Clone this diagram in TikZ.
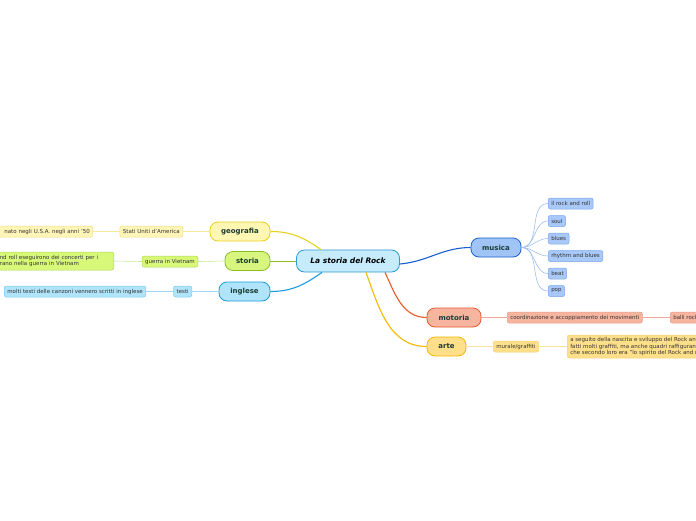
\documentclass[tikz,border=0pt]{standalone}
\usepackage{fontspec}
\setmainfont{DejaVu Sans}
\definecolor{labeltxt}{HTML}{1A3C34}
\definecolor{subtxt}{HTML}{333333}
\definecolor{cenfill}{HTML}{C6ECFC}\definecolor{cenbord}{HTML}{2A9BD5}
\definecolor{geofill}{HTML}{FFF7B3}\definecolor{geobord}{HTML}{E6D21A}\definecolor{geosubf}{HTML}{FFF5B8}\definecolor{geosubb}{HTML}{F0E080}\definecolor{geosubl}{HTML}{F5E99A}
\definecolor{stofill}{HTML}{D7F57F}\definecolor{stobord}{HTML}{8CBF26}\definecolor{stosubf}{HTML}{D8F87A}\definecolor{stosubb}{HTML}{B0D850}\definecolor{stosubl}{HTML}{C8E890}
\definecolor{ingfill}{HTML}{B0E4FA}\definecolor{ingbord}{HTML}{1A9DE0}\definecolor{ingsubf}{HTML}{B0E4FA}\definecolor{ingsubb}{HTML}{7CCAF0}\definecolor{ingsubl}{HTML}{9ED8F5}
\definecolor{musfill}{HTML}{A0C4F5}\definecolor{musbord}{HTML}{1A5FD0}\definecolor{mussubf}{HTML}{A8C8F8}\definecolor{mussubb}{HTML}{7AA6EA}\definecolor{mussubl}{HTML}{9FC0F0}
\definecolor{motfill}{HTML}{F7B5A0}\definecolor{motbord}{HTML}{E85A2A}\definecolor{motsubf}{HTML}{F7B5A0}\definecolor{motsubb}{HTML}{E89A85}\definecolor{motsubl}{HTML}{F0A898}
\definecolor{artfill}{HTML}{FFDF8A}\definecolor{artbord}{HTML}{F5B800}\definecolor{artsubf}{HTML}{FFE08A}\definecolor{artsubb}{HTML}{F8D070}\definecolor{artsubl}{HTML}{FBE3A0}
\begin{document}
\begin{tikzpicture}[x=1pt,y=-1pt,
  mainnode/.style={draw, rounded corners=8pt, line width=0.8pt, minimum height=19pt, inner xsep=0pt, font=\fontsize{7}{8}\selectfont\bfseries, text=labeltxt},
  subnode/.style={draw, rounded corners=2pt, line width=0.5pt, minimum height=11pt, inner xsep=3pt, inner ysep=1pt, font=\fontsize{5.5}{6.6}\selectfont, text=subtxt},
  mainline/.style={line width=1.1pt},
  subline/.style={line width=0.6pt}]
\clip (0,0) rectangle (696,520);
\fill[white] (0,0) rectangle (696,520);
% central
\node[draw=cenbord, fill=cenfill, rounded corners=8pt, line width=0.8pt, minimum width=103pt, minimum height=22pt, font=\fontsize{7.5}{9}\selectfont\bfseries\itshape, text=black] (c) at (348,261) {La storia del Rock};
% main branches
\node[mainnode, draw=geobord, fill=geofill, minimum width=60pt] (geo) at (240,231.5) {geografia};
\node[mainnode, draw=stobord, fill=stofill, minimum width=45pt] (sto) at (247.5,261) {storia};
\node[mainnode, draw=ingbord, fill=ingfill, minimum width=51pt] (ing) at (244.5,291.5) {inglese};
\node[mainnode, draw=musbord, fill=musfill, minimum width=50pt] (mus) at (496,247.5) {musica};
\node[mainnode, draw=motbord, fill=motfill, minimum width=54pt] (mot) at (454,317.5) {motoria};
\node[mainnode, draw=artbord, fill=artfill, minimum width=39pt] (art) at (446.5,346.5) {arte};
% main connectors
\draw[mainline, draw=geobord] (geo.east) to[out=0,in=145] ([xshift=-27pt]c.north);
\draw[mainline, draw=stobord, line width=0.9pt] (sto.east) -- (c.west);
\draw[mainline, draw=ingbord] (ing.east) to[out=0,in=215] ([xshift=-26pt]c.south);
\draw[mainline, draw=musbord] ([yshift=-3pt]c.east) to[out=5,in=180] (mus.west);
\draw[mainline, draw=motbord] ([xshift=37pt]c.south) to[out=-65,in=180] (mot.west);
\draw[mainline, draw=artbord] ([xshift=18pt]c.south) to[out=-70,in=180] (art.west);
% geografia
\node[subnode, draw=geosubb, fill=geosubf, anchor=east] (geo1) at (183,231.5) {Stati Uniti d'America};
\node[subnode, draw=geosubb, fill=geosubf, anchor=east, text width=100pt, align=right] (geo2) at (93,231.5) {nato negli U.S.A. negli anni '50};
\draw[subline, draw=geosubl] (geo.west) -- (geo1.east);
\draw[subline, draw=geosubl] (geo1.west) -- (geo2.east);
% storia
\node[subnode, draw=stosubb, fill=stosubf, anchor=east] (sto1) at (198,261.5) {guerra in Vietnam};
\node[subnode, draw=stosubb, fill=stosubf, anchor=east, text width=111pt, align=left, minimum height=18pt, font=\fontsize{5.5}{6.8}\selectfont] (sto2) at (114,261) {nd roll eseguirono dei concerti per i\\rano nella guerra in Vietnam};
\draw[subline, draw=stosubl] (sto.west) -- (sto1.east);
\draw[subline, draw=stosubl] (sto1.west) -- (sto2.east);
% inglese
\node[subnode, draw=ingsubb, fill=ingsubf, anchor=east] (ing1) at (192,291.5) {testi};
\node[subnode, draw=ingsubb, fill=ingsubf, anchor=east] (ing2) at (146,291.5) {molti testi delle canzoni vennero scritti in inglese};
\draw[subline, draw=ingsubl] (ing.west) -- (ing1.east);
\draw[subline, draw=ingsubl] (ing1.west) -- (ing2.east);
% musica
\node[subnode, draw=mussubb, fill=mussubf, anchor=west] (m1) at (548,203.5) {il rock and roll};
\node[subnode, draw=mussubb, fill=mussubf, anchor=west] (m2) at (548,221) {soul};
\node[subnode, draw=mussubb, fill=mussubf, anchor=west] (m3) at (548,238.5) {blues};
\node[subnode, draw=mussubb, fill=mussubf, anchor=west] (m4) at (548,256) {rhythm and blues};
\node[subnode, draw=mussubb, fill=mussubf, anchor=west] (m5) at (548,273.5) {beat};
\node[subnode, draw=mussubb, fill=mussubf, anchor=west] (m6) at (548,291) {pop};
\foreach \m in {m1,m2,m3,m4,m5,m6}
  \draw[subline, draw=mussubl] (mus.east) to[out=0,in=180] (\m.west);
% motoria
\node[subnode, draw=motsubb, fill=motsubf, anchor=west] (mot1) at (507,317.5) {coordinazione e accoppiamento dei movimenti};
\node[subnode, draw=motsubb, fill=motsubf, anchor=west] (mot2) at (670,317.5) {balli rock};
\draw[subline, draw=motsubl] (mot.east) -- (mot1.west);
\draw[subline, draw=motsubl] (mot1.east) -- (mot2.west);
% arte
\node[subnode, draw=artsubb, fill=artsubf, anchor=west] (art1) at (493,346.5) {murale/graffiti};
\node[subnode, draw=artsubb, fill=artsubf, anchor=west, align=left, minimum height=23pt, font=\fontsize{5.5}{6.6}\selectfont] (art2) at (567,346.5) {a seguito della nascita e sviluppo del Rock and roll\\fatti molti graffiti, ma anche quadri raffiguranti\\che secondo loro era "lo spirito del Rock and roll"};
\draw[subline, draw=artsubl] (art.east) -- (art1.west);
\draw[subline, draw=artsubl] (art1.east) -- (art2.west);
\end{tikzpicture}
\end{document}
